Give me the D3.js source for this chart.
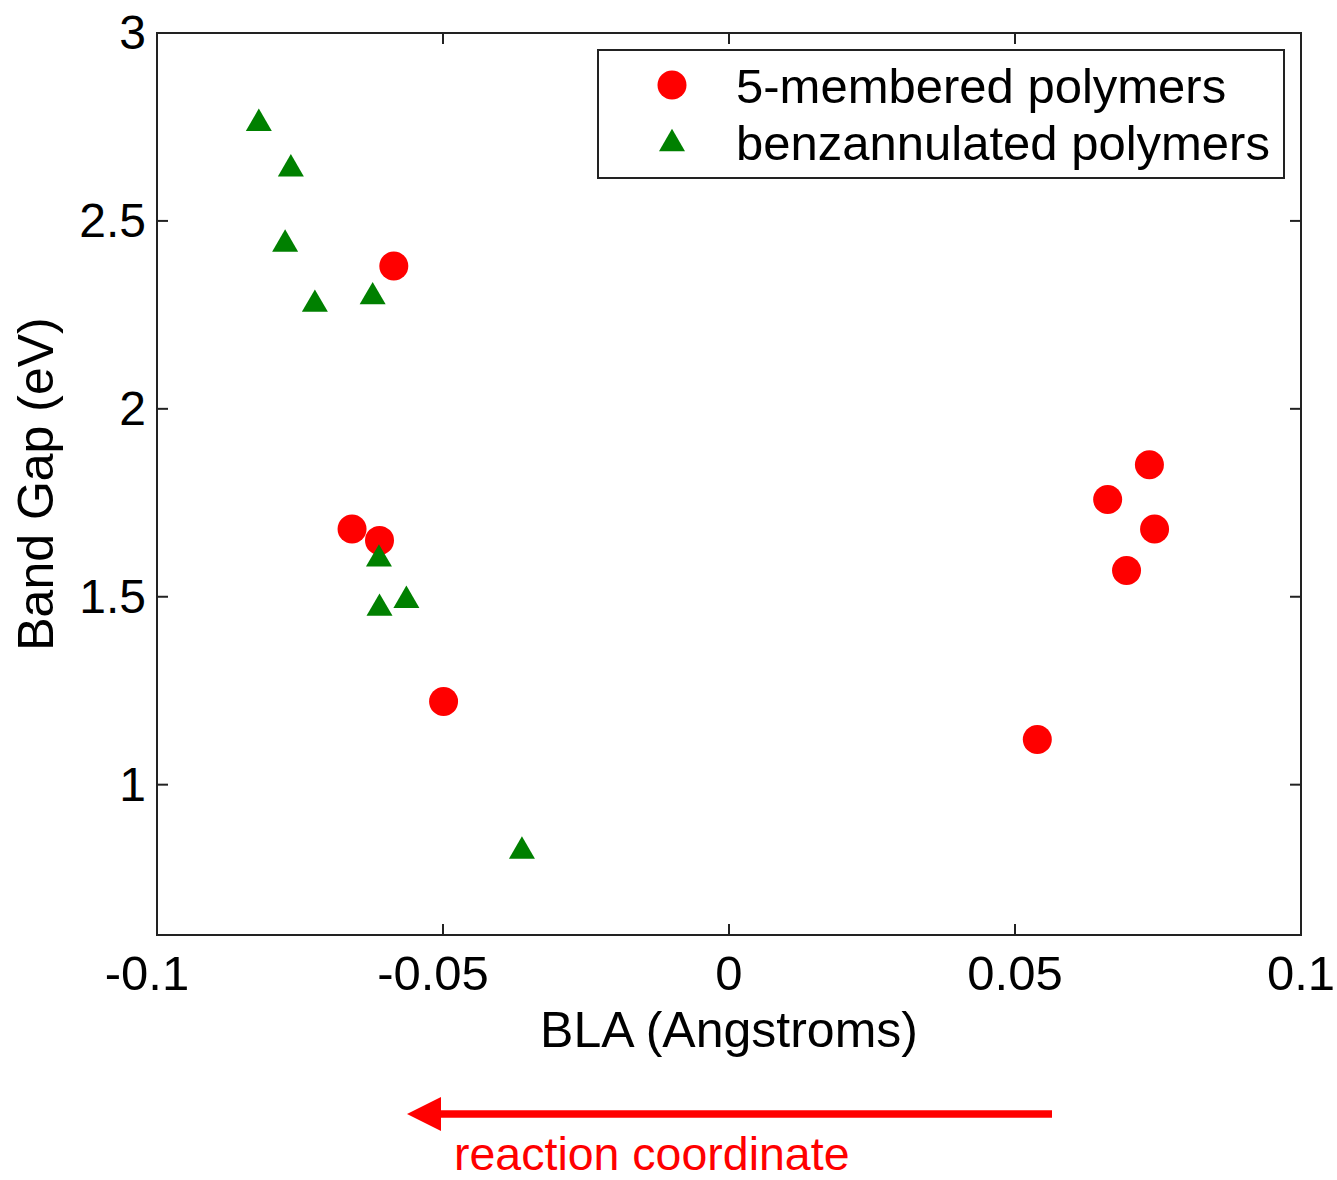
<!doctype html>
<title>Band gap vs BLA</title>
<script src="https://cdn.jsdelivr.net/npm/d3@7"></script>
<style>
body, html {
  margin: 0;
  background: #fff;
}
text {
  font-family: "Liberation Sans", Arial, sans-serif;
}
</style>
<div id="chart"></div>
<script>
var width = 1337;
var height = 1180;

// 5-membered polymers (red circles)
var fiveBLA = [-0.0586, -0.0659, -0.0611, -0.0499, 0.0735, 0.0662, 0.0744, 0.0695, 0.0539];
var fiveGap = [2.380, 1.680, 1.650, 1.221, 1.851, 1.759, 1.680, 1.570, 1.120];

// benzannulated polymers (green triangles)
var benzBLA = [-0.0822, -0.0766, -0.0776, -0.0724, -0.0623, -0.0612, -0.0611, -0.0564, -0.0362];
var benzGap = [2.769, 2.648, 2.448, 2.288, 2.308, 1.610, 1.479, 1.500, 0.833];

var xTicks = [-0.1, -0.05, 0, 0.05, 0.1];
var yTicks = [1, 1.5, 2, 2.5, 3];
var legendLabels = ["5-membered polymers", "benzannulated polymers"];

// plot box (don't call these top/left: window.top is read-only)
var pLeft = 157, pRight = 1301, pTop = 33, pBottom = 935;

var x = d3.scaleLinear().domain([-0.1, 0.1]).range([pLeft, pRight]);
var y = d3.scaleLinear().domain([0.6, 3]).range([pBottom, pTop]);

var svg = d3.select("#chart").append("svg")
    .attr("width", width)
    .attr("height", height);

var axisColor = "#222";

// box
svg.append("rect")
    .attr("x", pLeft).attr("y", pTop)
    .attr("width", pRight - pLeft).attr("height", pBottom - pTop)
    .attr("fill", "none").attr("stroke", axisColor).attr("stroke-width", 2);

// inward ticks on all four sides
var tl = 11;
xTicks.forEach(function(t) {
  svg.append("line").attr("x1", x(t)).attr("x2", x(t)).attr("y1", pBottom).attr("y2", pBottom - tl)
      .attr("stroke", axisColor).attr("stroke-width", 2);
  svg.append("line").attr("x1", x(t)).attr("x2", x(t)).attr("y1", pTop).attr("y2", pTop + tl)
      .attr("stroke", axisColor).attr("stroke-width", 2);
  // matlab centres the digits, the minus sign hangs out to the left
  svg.append("text").attr("x", x(t) - (t < 0 ? 10 : 0)).attr("y", 990)
      .attr("text-anchor", "middle").attr("font-size", 49)
      .text(t);
});
yTicks.forEach(function(t) {
  svg.append("line").attr("x1", pLeft).attr("x2", pLeft + tl).attr("y1", y(t)).attr("y2", y(t))
      .attr("stroke", axisColor).attr("stroke-width", 2);
  svg.append("line").attr("x1", pRight).attr("x2", pRight - tl).attr("y1", y(t)).attr("y2", y(t))
      .attr("stroke", axisColor).attr("stroke-width", 2);
  svg.append("text").attr("x", 146).attr("y", y(t) + 16)
      .attr("text-anchor", "end").attr("font-size", 48)
      .text(t);
});

// axis labels
svg.append("text").attr("x", x(0)).attr("y", 1047)
    .attr("text-anchor", "middle").attr("font-size", 50)
    .text("BLA (Angstroms)");
svg.append("text")
    .attr("transform", "translate(53,484) rotate(-90)")
    .attr("text-anchor", "middle").attr("font-size", 50)
    .text("Band Gap (eV)");

var tri = "M0,-11.2L13,11.2L-13,11.2Z";

// data points
svg.selectAll(".five").data(d3.range(fiveBLA.length)).enter()
  .append("circle")
    .attr("cx", function(i) { return x(fiveBLA[i]); })
    .attr("cy", function(i) { return y(fiveGap[i]); })
    .attr("r", 14.5)
    .attr("fill", "#ff0000");

svg.selectAll(".benz").data(d3.range(benzBLA.length)).enter()
  .append("path")
    .attr("d", tri)
    .attr("transform", function(i) { return "translate(" + x(benzBLA[i]) + "," + y(benzGap[i]) + ")"; })
    .attr("fill", "#008000");

// legend
svg.append("rect")
    .attr("x", 598).attr("y", 50).attr("width", 686).attr("height", 128)
    .attr("fill", "#fff").attr("stroke", axisColor).attr("stroke-width", 2);
svg.append("circle").attr("cx", 672).attr("cy", 85).attr("r", 14.5).attr("fill", "#ff0000");
svg.append("path").attr("d", tri).attr("transform", "translate(672,140)").attr("fill", "#008000");
svg.append("text").attr("x", 736).attr("y", 103).attr("font-size", 49).text(legendLabels[0]);
svg.append("text").attr("x", 736).attr("y", 160).attr("font-size", 49).text(legendLabels[1]);

// reaction coordinate arrow
svg.append("line")
    .attr("x1", 1052).attr("x2", 438).attr("y1", 1114).attr("y2", 1114)
    .attr("stroke", "#ff0000").attr("stroke-width", 7.5);
svg.append("path")
    .attr("d", "M407,1114L441,1097L441,1131Z")
    .attr("fill", "#ff0000");
svg.append("text").attr("x", 454).attr("y", 1170)
    .attr("font-size", 46.5).attr("fill", "#ff0000")
    .text("reaction coordinate");
</script>
